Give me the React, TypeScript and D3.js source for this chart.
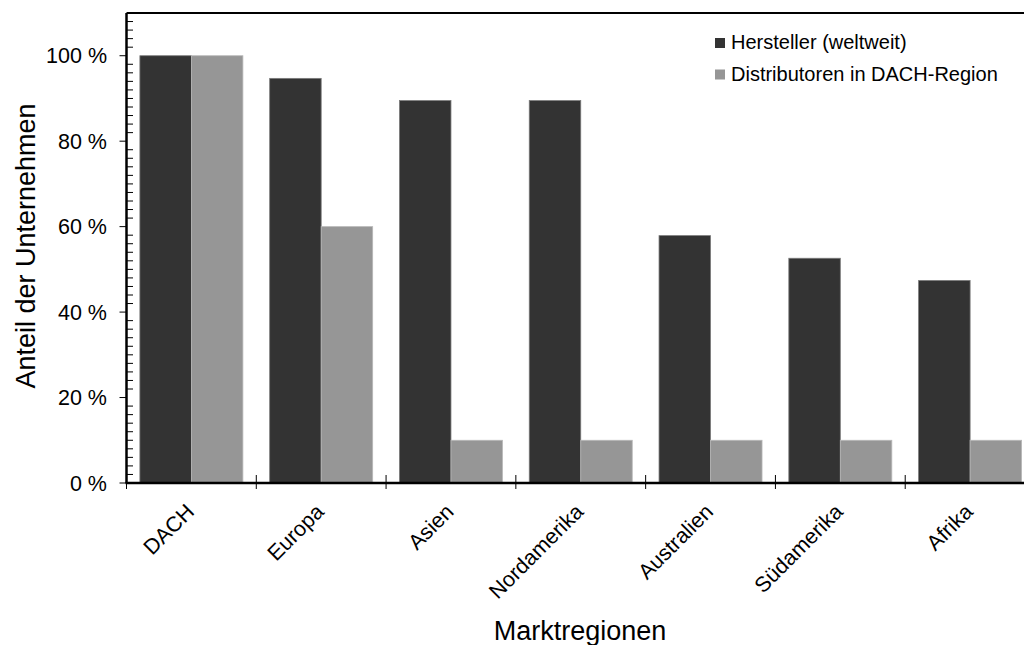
import React from "react";
import * as d3 from "d3";

const categories = ["DACH", "Europa", "Asien", "Nordamerika", "Australien", "Südamerika", "Afrika"];
const seriesNames = ["Hersteller (weltweit)", "Distributoren in DACH-Region"];
const herstellerValues = [100, 94.7, 89.5, 89.5, 57.9, 52.6, 47.4];
const distributorenValues = [100, 60, 10, 10, 10, 10, 10];
const yTickValues = [0, 20, 40, 60, 80, 100];
const seriesColors = ["#333333", "#969696"];
const seriesStrokes = ["#7a7a7a", "#b8b8b8"];

const W = 1024;
const H = 645;
const left = 126.5;
const top = 13;
const bottom = 483;
const right = 1035;
const font = "'Liberation Sans', Arial, sans-serif";

export default function App() {
  const x0 = d3.scaleBand<string>().domain(categories).range([left, right]).padding(0);
  const x1 = d3
    .scaleBand<string>()
    .domain(seriesNames)
    .range([0, x0.bandwidth()])
    .paddingInner(0)
    .paddingOuter(0.26);
  const y = d3.scaleLinear().domain([0, 110]).range([bottom, top]);
  const minorTicks = d3.range(2, 110, 2).filter((v) => v % 20 !== 0);
  const data = [herstellerValues, distributorenValues];

  return (
    <svg
      width={W}
      height={H}
      style={{ position: "absolute", left: 0, top: 0, background: "#fff" }}
      fontFamily={font}
    >
      {/* bars */}
      {categories.map((c, i) => (
        <g key={c} transform={`translate(${x0(c)},0)`}>
          {seriesNames.map((s, j) => (
            <rect
              key={s}
              x={x1(s)}
              y={y(data[j][i])}
              width={x1.bandwidth()}
              height={bottom - y(data[j][i])}
              fill={seriesColors[j]}
              stroke={seriesStrokes[j]}
              strokeWidth={0.8}
            />
          ))}
        </g>
      ))}

      {/* frame top */}
      <line x1={left} x2={right} y1={top} y2={top} stroke="#000" strokeWidth={2.2} />
      {/* y axis */}
      <line x1={left} x2={left} y1={top} y2={bottom} stroke="#000" strokeWidth={2.5} />
      {minorTicks.map((v) => (
        <line key={v} x1={left} x2={left + 6.5} y1={y(v)} y2={y(v)} stroke="#000" strokeWidth={1} />
      ))}
      {yTickValues.map((v) => (
        <g key={v}>
          <line x1={left - 7} x2={left} y1={y(v)} y2={y(v)} stroke="#000" strokeWidth={1} />
          <text x={107} y={y(v)} dy="0.36em" textAnchor="end" fontSize={21.5} fill="#000">
            {`${v} %`}
          </text>
        </g>
      ))}

      {/* x axis */}
      <line x1={left - 1} x2={right} y1={bottom} y2={bottom} stroke="#000" strokeWidth={2.5} />
      {categories.map((c) => (
        <line key={c} x1={x0(c)} x2={x0(c)} y1={bottom - 8} y2={bottom + 6} stroke="#000" strokeWidth={1} />
      ))}
      {categories.map((c) => {
        const cx = (x0(c) as number) + x0.bandwidth() / 2 + 4;
        const cy = 513;
        return (
          <text
            key={c}
            transform={`translate(${cx},${cy}) rotate(-45)`}
            textAnchor="end"
            fontSize={21.5}
            fill="#000"
          >
            {c}
          </text>
        );
      })}

      {/* axis titles */}
      <text
        transform={`translate(35,246) rotate(-90)`}
        textAnchor="middle"
        fontSize={27}
        fill="#000"
      >
        Anteil der Unternehmen
      </text>
      <text x={580} y={640} textAnchor="middle" fontSize={27} fill="#000">
        Marktregionen
      </text>

      {/* legend */}
      {seriesNames.map((s, j) => (
        <g key={s} transform={`translate(715,${38 + j * 31.5})`}>
          <rect x={0} y={0} width={10} height={10} fill={seriesColors[j]} />
          <text x={16} y={11} fontSize={20} fill="#000">
            {s}
          </text>
        </g>
      ))}
    </svg>
  );
}
